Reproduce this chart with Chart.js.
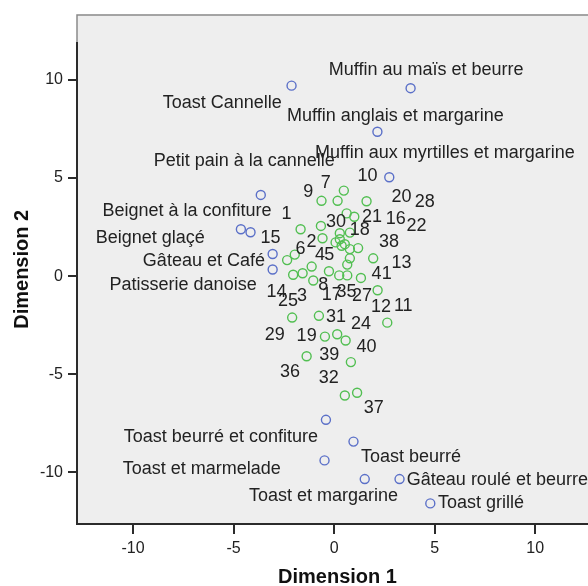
<!DOCTYPE html>
<html>
<head>
<meta charset="utf-8">
<script src="https://cdn.jsdelivr.net/npm/chart.js@4.4.1/dist/chart.umd.min.js"></script>
<style>
html, body { margin: 0; padding: 0; background: #fff; overflow: hidden; }
#wrap { width: 588px; height: 586px; overflow: hidden; }
</style>
</head>
<body>
<div id="wrap"><canvas id="chart" width="600" height="586"></canvas></div>
<script>
// Produits (points bleus)
const produits = [
    'Toast Cannelle', 'Muffin au maïs et beurre', 'Muffin anglais et margarine',
    'Muffin aux myrtilles et margarine', 'Petit pain à la cannelle', 'Beignet à la confiture',
    'Beignet glaçé', 'Gâteau et Café', 'Patisserie danoise', 'Toast beurré et confiture',
    'Toast beurré', 'Toast et marmelade', 'Gâteau roulé et beurre', 'Toast et margarine',
    'Toast grillé'
];
const produitsX = [-2.12, 3.80, 2.15, 2.74, -3.65, -4.64, -4.16, -3.06, -3.06, -0.41, 0.96, -0.48, 3.25, 1.52, 4.78];
const produitsY = [9.71, 9.58, 7.36, 5.04, 4.14, 2.39, 2.24, 1.13, 0.34, -7.32, -8.43, -9.39, -10.34, -10.34, -11.58];

// Répondants (points verts)
const repondants = [
    '10', '7', '9', '28', '20', '21', '1', '30', '2', '18', '16', '4', '5', '', '',
    '38', '22', '', '', '13', '15', '6', '14', '3', '8', '25', '17', '35', '27', '41',
    '12', '29', '31', '11', '19', '24', '39', '36', '40', '32', '37'
];
const repondantsX = [
    0.48, -0.63, 0.17, 1.61, 0.62, 1.00, -1.67, -0.66, -0.58, 0.28, 0.78, 0.07, 0.28, 0.37, 0.53,
    0.78, 1.19, 0.78, 0.65, 1.94, -2.34, -1.96, -2.04, -1.57, -1.12, -1.04, -0.26, 0.25, 0.65, 1.33,
    2.16, -2.09, -0.76, 2.64, -0.46, 0.15, 0.57, -1.37, 0.83, 0.53, 1.14
];
const repondantsY = [
    4.36, 3.84, 3.84, 3.82, 3.20, 3.03, 2.39, 2.56, 1.93, 2.19, 2.22, 1.72, 1.88, 1.55, 1.63,
    1.38, 1.43, 0.91, 0.59, 0.91, 0.82, 1.10, 0.07, 0.15, 0.49, -0.22, 0.25, 0.04, 0.04, -0.09,
    -0.72, -2.11, -2.02, -2.37, -3.08, -2.96, -3.28, -4.08, -4.38, -6.08, -5.94
];

const xTicks = [-10, -5, 0, 5, 10];
const yTicks = [-10, -5, 0, 5, 10];

// placement des étiquettes : [alignement, dx, dy] en pixels par rapport au point
const produitsLabelPos = [
    ['right', -9.7, 17.3], ['center', 15.5, -18], ['center', 18, -15.3], ['center', 55.7, -24.3],
    ['center', -16.5, -34], ['right', 30.7, -18.7], ['right', -45.7, 6.3], ['right', -7.7, 7.3],
    ['right', -16, 15.7], ['right', -8, 17], ['left', 7.4, 15], ['right', -43.7, 9],
    ['left', 7.3, 1.3], ['right', 33.2, 17.3], ['left', 7.6, 0]
];
const repondantsLabelPos = [
    [23.7, -14.4], [4.3, -18], [-29.4, -8.5], [58.3, 0.7], [54.8, -16.7], [17.7, 0.7], [-14, -15.2],
    [15, -4.3], [-11, 3.6], [20, -2.7], [46, -13.8], [-15.7, 12.7], [-10.5, 16], [0, 0], [0, 0],
    [39.2, -7.2], [58.4, -22.4], [0, 0], [0, 0], [28.4, 5], [-16.6, -22], [5.7, -5.8], [-16.6, 17.3],
    [-0.7, 23], [11.6, 18.7], [-25.3, 20.7], [2.7, 23.5], [7.4, 16.7], [14.7, 20.2], [20.7, -4],
    [3.3, 16.7], [-17.3, 17], [17, 1], [16, -17], [-18.3, -1], [23.7, -10.4], [-16.4, 15],
    [-16.7, 16], [15.7, -14.7], [-16, -17], [16.7, 15.6]
].map(p => ['center', p[0], p[1]]);

const FONT = '"Liberation Sans", Arial, sans-serif';

// fond gris, cadre et axes
const framePlugin = {
    id: 'frame',
    beforeDraw(chart) {
        const {ctx, chartArea: a} = chart;
        ctx.save();
        ctx.fillStyle = '#eeeeee';
        ctx.fillRect(a.left, a.top, a.right - a.left, a.bottom - a.top);
        ctx.restore();
    },
    afterDraw(chart) {
        const {ctx, chartArea: a} = chart;
        const yTop = chart.scales.y.getPixelForValue(11.93);
        ctx.save();
        ctx.strokeStyle = '#8a8a8a';
        ctx.lineWidth = 1.5;
        ctx.beginPath();
        ctx.moveTo(a.left, yTop);
        ctx.lineTo(a.left, a.top + 0.5);
        ctx.lineTo(a.right, a.top + 0.5);
        ctx.stroke();
        ctx.strokeStyle = '#2b2b2b';
        ctx.lineWidth = 2;
        ctx.beginPath();
        ctx.moveTo(a.left, yTop);
        ctx.lineTo(a.left, a.bottom);
        ctx.lineTo(a.right, a.bottom);
        ctx.stroke();
        ctx.restore();
    }
};

// étiquettes des points
const labelPlugin = {
    id: 'pointLabels',
    afterDatasetsDraw(chart) {
        const ctx = chart.ctx;
        ctx.save();
        ctx.font = '18px ' + FONT;
        ctx.fillStyle = '#222222';
        ctx.textBaseline = 'middle';
        chart.data.datasets.forEach((ds, i) => {
            const meta = chart.getDatasetMeta(i);
            meta.data.forEach((pt, j) => {
                const txt = ds.pointLabels[j];
                if (!txt) return;
                const p = ds.labelPos[j];
                ctx.textAlign = p[0];
                ctx.fillText(txt, pt.x + p[1], pt.y + p[2]);
            });
        });
        ctx.restore();
    }
};

new Chart(document.getElementById('chart').getContext('2d'), {
    type: 'scatter',
    data: {
        datasets: [
            {
                label: 'Répondants',
                data: repondantsX.map((x, i) => ({x: x, y: repondantsY[i]})),
                pointLabels: repondants,
                labelPos: repondantsLabelPos,
                borderColor: '#52bf52',
                backgroundColor: 'rgba(0,0,0,0)',
                pointRadius: 4.5,
                borderWidth: 1.4
            },
            {
                label: 'Produits',
                data: produitsX.map((x, i) => ({x: x, y: produitsY[i]})),
                pointLabels: produits,
                labelPos: produitsLabelPos,
                borderColor: '#5b70c8',
                backgroundColor: 'rgba(0,0,0,0)',
                pointRadius: 4.5,
                borderWidth: 1.4
            }
        ]
    },
    options: {
        responsive: false,
        animation: false,
        devicePixelRatio: 1,
        layout: { autoPadding: false, padding: { left: 0, top: 10, right: 2, bottom: 0 } },
        plugins: {
            legend: { display: false },
            tooltip: { enabled: false }
        },
        scales: {
            x: {
                type: 'linear',
                min: -12.79,
                max: 13.12,
                afterBuildTicks: function(scale) {
                    scale.ticks = xTicks.map(v => ({value: v}));
                },
                afterFit: function(scale) {
                    scale.height = 62;
                },
                border: { display: false },
                grid: {
                    drawOnChartArea: false,
                    drawTicks: true,
                    tickLength: 10,
                    color: '#2b2b2b',
                    lineWidth: 2
                },
                ticks: {
                    padding: 5,
                    color: '#222222',
                    font: { family: FONT, size: 16 }
                },
                title: {
                    display: true,
                    text: 'Dimension 1',
                    color: '#111111',
                    padding: { top: 0, bottom: -3 },
                    font: { family: FONT, size: 20, weight: 'bold' }
                }
            },
            y: {
                type: 'linear',
                min: -12.63,
                max: 13.33,
                afterBuildTicks: function(scale) {
                    scale.ticks = yTicks.map(v => ({value: v}));
                },
                afterFit: function(scale) {
                    scale.width = 77;
                },
                border: { display: false },
                grid: {
                    drawOnChartArea: false,
                    drawTicks: true,
                    tickLength: 9,
                    color: '#2b2b2b',
                    lineWidth: 2
                },
                ticks: {
                    padding: 5,
                    color: '#222222',
                    font: { family: FONT, size: 16 }
                },
                title: {
                    display: true,
                    text: 'Dimension 2',
                    color: '#111111',
                    padding: { top: 10, bottom: 0 },
                    font: { family: FONT, size: 20, weight: 'bold' }
                }
            }
        }
    },
    plugins: [framePlugin, labelPlugin]
});
</script>
</body>
</html>
